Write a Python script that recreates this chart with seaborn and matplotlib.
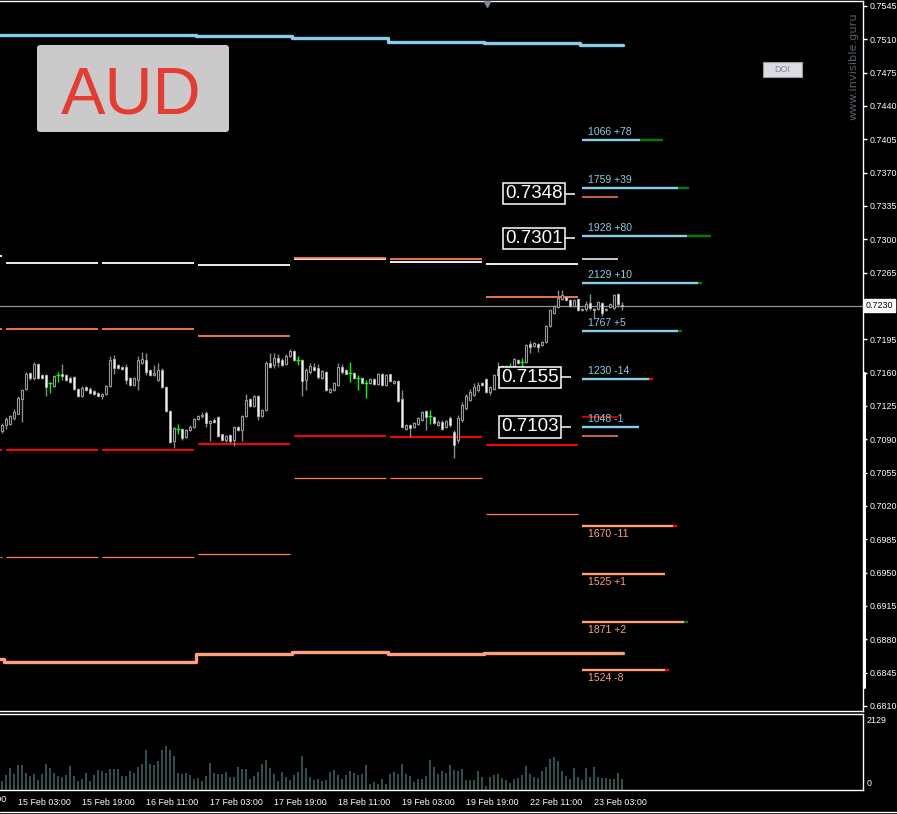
import numpy as np
import matplotlib
matplotlib.use("Agg")
import matplotlib.pyplot as plt
import seaborn as sns
from matplotlib import font_manager
from matplotlib.patches import FancyBboxPatch, Rectangle
from matplotlib.lines import Line2D

# ---------------- data (AUD, H1 bars) ----------------
# bar 0 is the last hour of 14 Feb, bar 145 is 23 Feb 00:00
opens = [
    0.7099, 0.7105, 0.7106, 0.7112, 0.7117, 0.7132, 0.7143, 0.7160, 0.7154, 0.7169, 0.7157, 0.7157,
    0.7149, 0.7146, 0.7157, 0.7158, 0.7157, 0.7154, 0.7155, 0.7143, 0.7135, 0.7145, 0.7143, 0.7141,
    0.7139, 0.7135, 0.7137, 0.7146, 0.7174, 0.7168, 0.7166, 0.7166, 0.7154, 0.7147, 0.7152, 0.7170,
    0.7173, 0.7163, 0.7157, 0.7152, 0.7163, 0.7145, 0.7120, 0.7088, 0.7101, 0.7101, 0.7092, 0.7100,
    0.7103, 0.7111, 0.7114, 0.7118, 0.7107, 0.7110, 0.7113, 0.7095, 0.7089, 0.7094, 0.7089, 0.7103,
    0.7100, 0.7114, 0.7132, 0.7125, 0.7135, 0.7114, 0.7121, 0.7170, 0.7168, 0.7175, 0.7173, 0.7169,
    0.7177, 0.7183, 0.7173, 0.7173, 0.7152, 0.7161, 0.7166, 0.7165, 0.7154, 0.7161, 0.7140, 0.7142,
    0.7147, 0.7166, 0.7163, 0.7160, 0.7160, 0.7154, 0.7154, 0.7149, 0.7149, 0.7153, 0.7148, 0.7159,
    0.7147, 0.7158, 0.7149, 0.7151, 0.7132, 0.7101, 0.7105, 0.7103, 0.7106, 0.7110, 0.7120, 0.7114,
    0.7113, 0.7105, 0.7108, 0.7103, 0.7112, 0.7098, 0.7089, 0.7110, 0.7123, 0.7131, 0.7136, 0.7142,
    0.7149, 0.7153, 0.7140, 0.7143, 0.7157, 0.7165, 0.7166, 0.7166, 0.7167, 0.7173, 0.7171, 0.7171,
    0.7190, 0.7188, 0.7190, 0.7189, 0.7192, 0.7209, 0.7223, 0.7229, 0.7237, 0.7239, 0.7236, 0.7230,
    0.7237, 0.7226, 0.7227, 0.7233, 0.7227, 0.7227, 0.7233, 0.7226, 0.7229, 0.7228, 0.7243, 0.7231,
]
highs = [
    0.7107, 0.7113, 0.7115, 0.7122, 0.7135, 0.7143, 0.7161, 0.7161, 0.7171, 0.7170, 0.7158, 0.7159,
    0.7150, 0.7157, 0.7161, 0.7169, 0.7159, 0.7156, 0.7156, 0.7144, 0.7146, 0.7146, 0.7145, 0.7142,
    0.7140, 0.7139, 0.7147, 0.7177, 0.7178, 0.7169, 0.7167, 0.7169, 0.7155, 0.7155, 0.7177, 0.7182,
    0.7181, 0.7164, 0.7168, 0.7170, 0.7165, 0.7146, 0.7121, 0.7103, 0.7106, 0.7102, 0.7101, 0.7105,
    0.7112, 0.7115, 0.7119, 0.7120, 0.7110, 0.7112, 0.7114, 0.7096, 0.7094, 0.7095, 0.7104, 0.7104,
    0.7115, 0.7138, 0.7133, 0.7136, 0.7136, 0.7122, 0.7172, 0.7181, 0.7181, 0.7180, 0.7175, 0.7179,
    0.7185, 0.7184, 0.7177, 0.7174, 0.7165, 0.7170, 0.7170, 0.7169, 0.7163, 0.7162, 0.7144, 0.7150,
    0.7170, 0.7169, 0.7164, 0.7171, 0.7161, 0.7157, 0.7155, 0.7152, 0.7154, 0.7154, 0.7160, 0.7160,
    0.7158, 0.7159, 0.7152, 0.7152, 0.7142, 0.7106, 0.7106, 0.7108, 0.7113, 0.7120, 0.7121, 0.7121,
    0.7114, 0.7110, 0.7110, 0.7110, 0.7114, 0.7100, 0.7115, 0.7129, 0.7138, 0.7143, 0.7149, 0.7150,
    0.7150, 0.7154, 0.7146, 0.7159, 0.7171, 0.7168, 0.7168, 0.7170, 0.7175, 0.7174, 0.7175, 0.7190,
    0.7193, 0.7192, 0.7191, 0.7193, 0.7210, 0.7227, 0.7231, 0.7247, 0.7247, 0.7240, 0.7237, 0.7237,
    0.7238, 0.7228, 0.7235, 0.7243, 0.7228, 0.7235, 0.7234, 0.7228, 0.7233, 0.7242, 0.7244, 0.7234,
]
lows = [
    0.7097, 0.7101, 0.7105, 0.7110, 0.7116, 0.7108, 0.7142, 0.7152, 0.7152, 0.7153, 0.7153, 0.7135,
    0.7139, 0.7145, 0.7150, 0.7152, 0.7151, 0.7149, 0.7142, 0.7134, 0.7134, 0.7141, 0.7138, 0.7136,
    0.7134, 0.7132, 0.7136, 0.7145, 0.7159, 0.7164, 0.7163, 0.7148, 0.7146, 0.7146, 0.7142, 0.7169,
    0.7157, 0.7156, 0.7156, 0.7151, 0.7144, 0.7119, 0.7086, 0.7081, 0.7096, 0.7089, 0.7091, 0.7099,
    0.7102, 0.7110, 0.7112, 0.7103, 0.7088, 0.7107, 0.7092, 0.7088, 0.7087, 0.7086, 0.7083, 0.7099,
    0.7088, 0.7113, 0.7124, 0.7124, 0.7110, 0.7113, 0.7120, 0.7165, 0.7165, 0.7166, 0.7167, 0.7168,
    0.7176, 0.7172, 0.7168, 0.7135, 0.7142, 0.7159, 0.7162, 0.7153, 0.7153, 0.7141, 0.7139, 0.7141,
    0.7146, 0.7159, 0.7158, 0.7150, 0.7153, 0.7142, 0.7148, 0.7133, 0.7148, 0.7147, 0.7147, 0.7146,
    0.7146, 0.7150, 0.7148, 0.7129, 0.7102, 0.7100, 0.7092, 0.7102, 0.7105, 0.7109, 0.7100, 0.7106,
    0.7106, 0.7104, 0.7100, 0.7102, 0.7103, 0.7070, 0.7086, 0.7108, 0.7121, 0.7130, 0.7135, 0.7140,
    0.7146, 0.7139, 0.7136, 0.7142, 0.7156, 0.7164, 0.7165, 0.7162, 0.7166, 0.7169, 0.7163, 0.7170,
    0.7181, 0.7187, 0.7182, 0.7188, 0.7191, 0.7208, 0.7222, 0.7228, 0.7236, 0.7235, 0.7229, 0.7229,
    0.7225, 0.7225, 0.7225, 0.7226, 0.7216, 0.7226, 0.7219, 0.7225, 0.7228, 0.7227, 0.7229, 0.7226,
]
closes = [
    0.7105, 0.7111, 0.7114, 0.7119, 0.7133, 0.7142, 0.7159, 0.7154, 0.7169, 0.7154, 0.7154, 0.7145,
    0.7149, 0.7156, 0.7157, 0.7156, 0.7152, 0.7150, 0.7143, 0.7135, 0.7144, 0.7142, 0.7139, 0.7137,
    0.7135, 0.7138, 0.7146, 0.7173, 0.7165, 0.7165, 0.7164, 0.7152, 0.7147, 0.7154, 0.7173, 0.7174,
    0.7161, 0.7157, 0.7160, 0.7163, 0.7145, 0.7120, 0.7087, 0.7102, 0.7101, 0.7091, 0.7100, 0.7103,
    0.7111, 0.7114, 0.7115, 0.7107, 0.7109, 0.7108, 0.7093, 0.7089, 0.7093, 0.7088, 0.7103, 0.7100,
    0.7114, 0.7131, 0.7125, 0.7135, 0.7114, 0.7121, 0.7170, 0.7166, 0.7175, 0.7171, 0.7168, 0.7177,
    0.7183, 0.7173, 0.7173, 0.7151, 0.7163, 0.7167, 0.7163, 0.7155, 0.7162, 0.7142, 0.7143, 0.7149,
    0.7166, 0.7161, 0.7159, 0.7160, 0.7154, 0.7154, 0.7149, 0.7149, 0.7153, 0.7148, 0.7159, 0.7147,
    0.7157, 0.7151, 0.7151, 0.7130, 0.7103, 0.7105, 0.7102, 0.7107, 0.7112, 0.7119, 0.7113, 0.7114,
    0.7107, 0.7108, 0.7101, 0.7109, 0.7105, 0.7084, 0.7112, 0.7126, 0.7135, 0.7140, 0.7145, 0.7147,
    0.7147, 0.7140, 0.7145, 0.7157, 0.7164, 0.7167, 0.7167, 0.7166, 0.7174, 0.7170, 0.7171, 0.7189,
    0.7187, 0.7191, 0.7187, 0.7192, 0.7209, 0.7226, 0.7230, 0.7238, 0.7241, 0.7236, 0.7230, 0.7236,
    0.7226, 0.7227, 0.7232, 0.7228, 0.7226, 0.7234, 0.7223, 0.7227, 0.7232, 0.7241, 0.7232, 0.7230,
]
volumes = [
    243, 407, 611, 446, 708, 708, 466, 388, 446, 272, 446, 737,
    621, 466, 388, 359, 417, 679, 388, 243, 301, 475, 243, 407,
    563, 534, 475, 592, 592, 592, 388, 388, 534, 475, 650, 737,
    1145, 737, 708, 825, 1145, 1261, 1145, 970, 475, 446, 475, 417,
    301, 330, 243, 388, 766, 475, 446, 446, 504, 359, 359, 650,
    592, 592, 301, 388, 504, 737, 854, 621, 446, 243, 504, 359,
    272, 417, 504, 970, 621, 359, 272, 301, 243, 272, 504, 563,
    417, 301, 417, 534, 475, 417, 446, 708, 155, 213, 155, 301,
    155, 446, 504, 446, 737, 446, 388, 213, 301, 301, 388, 854,
    650, 446, 534, 475, 708, 563, 534, 592, 272, 272, 272, 534,
    359, 97, 359, 417, 446, 330, 272, 184, 301, 330, 417, 679,
    446, 359, 330, 534, 650, 883, 941, 825, 534, 388, 301, 621,
    359, 272, 621, 359, 650, 359, 330, 330, 301, 301, 475, 301,
]

time_ticks = [4, 20, 36, 52, 68, 84, 100, 116, 132, 148]
time_labels = ["15 Feb 03:00", "15 Feb 19:00", "16 Feb 11:00", "17 Feb 03:00",
               "17 Feb 19:00", "18 Feb 11:00", "19 Feb 03:00", "19 Feb 19:00",
               "22 Feb 11:00", "23 Feb 03:00"]

# daily levels (previous day stub + 6 full days)
day_first_bar = [-23, 1, 25, 49, 73, 97, 121]
day_white = [0.72824, 0.72751, 0.72751, 0.72730, 0.72789, 0.72758, 0.72740]
day_coral_hi = [0.72058, 0.72058, 0.72058, 0.71981, 0.72800, 0.72789, 0.72394]
day_red = [0.70787, 0.70787, 0.70787, 0.70847, 0.70934, 0.70924, 0.70840]
day_coral_lo = [0.69664, 0.69664, 0.69664, 0.69695, 0.70493, 0.70493, 0.70115]

# current day short levels
today_first_bar = 145
today_coral_hi = 0.73444
today_white = 0.72789
today_red = 0.71134
today_coral_lo = 0.70934

# thick band curves, one value per day
curve_day_start = [-0.5, 0.5, 24.5, 48.5, 72.5, 96.5, 120.5, 144.5]
upper_curve = [0.75145, 0.75145, 0.75145, 0.75134, 0.75116, 0.75068, 0.75057, 0.75036]
lower_curve = [0.68589, 0.68561, 0.68561, 0.68645, 0.68663, 0.68645, 0.68652, 0.68652]

# volume-at-level markers of the current day
blue_levels = [0.74042, 0.73538, 0.73034, 0.72541, 0.72037, 0.71533, 0.71029]
blue_vol = [1066, 1759, 1928, 2129, 1767, 1230, 1048]
blue_delta = [78, 39, 80, 10, 5, -14, -1]
salmon_levels = [0.69992, 0.69488, 0.68984, 0.68480]
salmon_vol = [1670, 1525, 1871, 1524]
salmon_delta = [-11, 1, 2, -8]

box_prices = [0.7348, 0.7301, 0.7155, 0.7103]
last_price = 0.7230
volume_scale_top = 2129

# ---------------- style ----------------
W, H = 897, 814
sns.set_theme(style="dark")
available = {f.name for f in font_manager.fontManager.ttflist}
BOX_FONT = "Liberation Sans Narrow" if "Liberation Sans Narrow" in available else "Liberation Sans"
plt.rcParams["font.family"] = ["Liberation Sans", "DejaVu Sans"]

SKY = "#87ceeb"
SALMON = "#ffa07a"
CORAL = "#ff7f50"
AXIS_FS = 6.4


def fx(x):
    return x / W


def fy(y):
    return 1 - y / H


fig = plt.figure(figsize=(W / 100, H / 100), dpi=100, facecolor="black")
ax = fig.add_axes([0, fy(711), fx(863), (711 - 1) / H], facecolor="black")
axv = fig.add_axes([0, fy(789.5), fx(863), (789.5 - 713.5) / H], facecolor="black")

xmin, xmax = -0.5, 215.25
ax.set_xlim(xmin, xmax)
ax.set_ylim(0.680465, 0.755015)

# ---------------- candles ----------------
o = np.array(opens)
h = np.array(highs)
l = np.array(lows)
c = np.array(closes)
idx = np.arange(len(o))
doji = np.isclose(o, c)
bull = (c > o) & ~doji
bear = (c < o) & ~doji

ax.vlines(idx[~doji], l[~doji], h[~doji], color="#8a8a8a", lw=1.0, zorder=3)
ax.bar(idx[bull], (c - o)[bull], bottom=o[bull], width=0.6, color="black",
       edgecolor="#9a9a9a", linewidth=0.8, zorder=4)
bear_h = np.maximum((o - c)[bear], 0.00008)
ax.bar(idx[bear], bear_h, bottom=c[bear], width=0.6, color="#f2f2f2",
       edgecolor="#b0b0b0", linewidth=0.6, zorder=4)
ax.vlines(idx[doji], l[doji], h[doji], color="#00ff00", lw=1.0, zorder=4)
ax.hlines(o[doji], idx[doji] - 0.45, idx[doji] + 0.45, color="#00ff00", lw=1.0, zorder=4)

# ---------------- daily level segments ----------------
for k, first in enumerate(day_first_bar):
    x0, x1 = max(first, xmin), first + 23
    ax.hlines(day_white[k], x0, x1, color="white", lw=1.3, zorder=2)
    ax.hlines(day_coral_hi[k], x0, x1, color=CORAL, lw=1.3, zorder=2)
    ax.hlines(day_red[k], x0, x1, color="#ff0000", lw=1.4, zorder=2)
    ax.hlines(day_coral_lo[k], x0, x1, color=CORAL, lw=0.9, zorder=2)

t0, t1 = today_first_bar, today_first_bar + 9
ax.hlines(today_coral_hi, t0, t1, color=CORAL, lw=1.1, zorder=2)
ax.hlines(today_white, t0, t1, color="white", lw=1.1, zorder=2)
ax.hlines(today_red, t0, t1, color="#ff0000", lw=1.1, zorder=2)
ax.hlines(today_coral_lo, t0, t1, color=CORAL, lw=1.1, zorder=2)

# thick band curves
end_bar = 155.2
sns.lineplot(x=curve_day_start + [end_bar], y=upper_curve + [upper_curve[-1]],
             drawstyle="steps-post", color=SKY, lw=2.4, ax=ax, legend=False, zorder=3)
sns.lineplot(x=curve_day_start + [end_bar], y=lower_curve + [lower_curve[-1]],
             drawstyle="steps-post", color=SALMON, lw=2.4, ax=ax, legend=False, zorder=3)

# current price line
ax.axhline(last_price, color="#8c949c", lw=0.9, zorder=1)

# ---------------- volume-at-level markers ----------------
bars_per_volume = 0.0136


def level_marker(price, vol, delta, color, label_above):
    end = today_first_bar + vol * bars_per_volume
    ax.hlines(price, today_first_bar, end, color=color, lw=1.7, zorder=5)
    if abs(delta) >= 2:
        ext = max(abs(delta) * 0.075, 1.0)
        ax.hlines(price, end, end + ext, color="#008000" if delta > 0 else "#ff0000",
                  lw=1.7, zorder=5)
    txt = f"{vol} {delta:+d}".replace("+-", "-")
    if label_above:
        ax.text(today_first_bar + 1.5, price + 0.00035, txt, color=color, fontsize=7.5,
                va="bottom", ha="left", zorder=6)
    else:
        ax.text(today_first_bar + 1.5, price - 0.00035, txt, color=color, fontsize=7.5,
                va="top", ha="left", zorder=6)


for p, v, d in zip(blue_levels, blue_vol, blue_delta):
    level_marker(p, v, d, SKY, True)
for p, v, d in zip(salmon_levels, salmon_vol, salmon_delta):
    level_marker(p, v, d, SALMON, False)

# boxed price labels with connectors
box_right = [140.2, 140.2, 139.2, 139.2]
for p, xr in zip(box_prices, box_right):
    ax.text(xr, p, f"{p:.4f}", color="white", fontsize=15 if BOX_FONT.endswith("Narrow") else 13.5,
            family=BOX_FONT, ha="right", va="center", zorder=7,
            bbox=dict(boxstyle="square,pad=0.12", fc="black", ec="white", lw=1.1))
    ax.hlines(p, xr + 0.6, xr + 3.1, color="white", lw=1.1, zorder=7)

# ---------------- price axis ----------------
price_ticks = np.round(np.arange(0.6810, 0.75451, 0.0035), 4)
ax.yaxis.tick_right()
ax.set_yticks(price_ticks)
# the 0.7230 slot is covered by the current price tag
ax.set_yticklabels(["" if np.isclose(t, last_price) else f"{t:.4f}" for t in price_ticks])
ax.tick_params(axis="y", colors="white", labelcolor="white", length=3, width=1,
               pad=1.5, labelsize=AXIS_FS, direction="out")
ax.set_xticks([])
ax.grid(False)
for side in ["top", "right", "bottom"]:
    ax.spines[side].set_color("white")
    ax.spines[side].set_linewidth(1)
ax.spines["left"].set_visible(False)

# ---------------- volume panel ----------------
axv.bar(idx, volumes, width=0.72, color="#2f4f4f", edgecolor="none", linewidth=0, zorder=2)
axv.set_xlim(xmin, xmax)
axv.set_ylim(0, 2190)
axv.set_yticks([])
axv.grid(False)
axv.set_xticks(time_ticks)
axv.set_xticklabels(time_labels, ha="left")
axv.tick_params(axis="x", colors="white", labelcolor="white", length=4, width=1,
                pad=2, labelsize=AXIS_FS, direction="out")
for side in ["top", "right", "bottom"]:
    axv.spines[side].set_color("white")
    axv.spines[side].set_linewidth(1)
axv.spines["left"].set_visible(False)
fig.text(fx(867), fy(720.5), str(volume_scale_top), color="white", fontsize=AXIS_FS,
         ha="left", va="center")
fig.text(fx(867), fy(783), "0", color="white", fontsize=AXIS_FS, ha="left", va="center")
fig.text(fx(-46), fy(800), "14 Feb 11:00", color="white", fontsize=AXIS_FS, ha="left", va="center")

# ---------------- decorations ----------------
fig.add_artist(Line2D([0, 1], [fy(812), fy(812)], color="white", lw=1))
fig.add_artist(Line2D([fx(864), fx(864)], [fy(373), fy(687)], color="white", lw=2.2))

# current price tag
fig.text(fx(866), fy(305.5), f"{last_price:.4f}", color="black", fontsize=AXIS_FS,
         ha="left", va="center", zorder=10,
         bbox=dict(boxstyle="square,pad=0.18", fc="white", ec="white"))

# AUD badge
fig.add_artist(FancyBboxPatch((fx(37), fy(132)), fx(229) - fx(37), fy(45) - fy(132),
                              boxstyle="round,pad=0,rounding_size=0.004",
                              transform=fig.transFigure, fc="#cacaca", ec="none"))
fig.text(fx(131.5), fy(113), "AUD", color="#e53b30", fontsize=48, ha="center",
         va="baseline", family="Liberation Sans")

# DOI button
fig.add_artist(Rectangle((fx(763), fy(77)), fx(802) - fx(763), fy(62) - fy(77),
                         transform=fig.transFigure, fc="#d9dde4", ec="#9a9a9a", lw=0.8))
fig.text(fx(782.5), fy(70), "DOI", color="#7f8790", fontsize=6.5, ha="center", va="center")

# watermark
fig.text(fx(854), fy(66), "www.invisible.guru", color="#56616b", fontsize=8.2,
         rotation=90, ha="center", va="center", family="DejaVu Sans")

# chart shift marker
fig.add_artist(Line2D([fx(487)], [fy(4)], marker="v", markersize=5,
                      color="#7d8a97", linestyle="none"))

fig.savefig("out.png", dpi=100, facecolor="black")
